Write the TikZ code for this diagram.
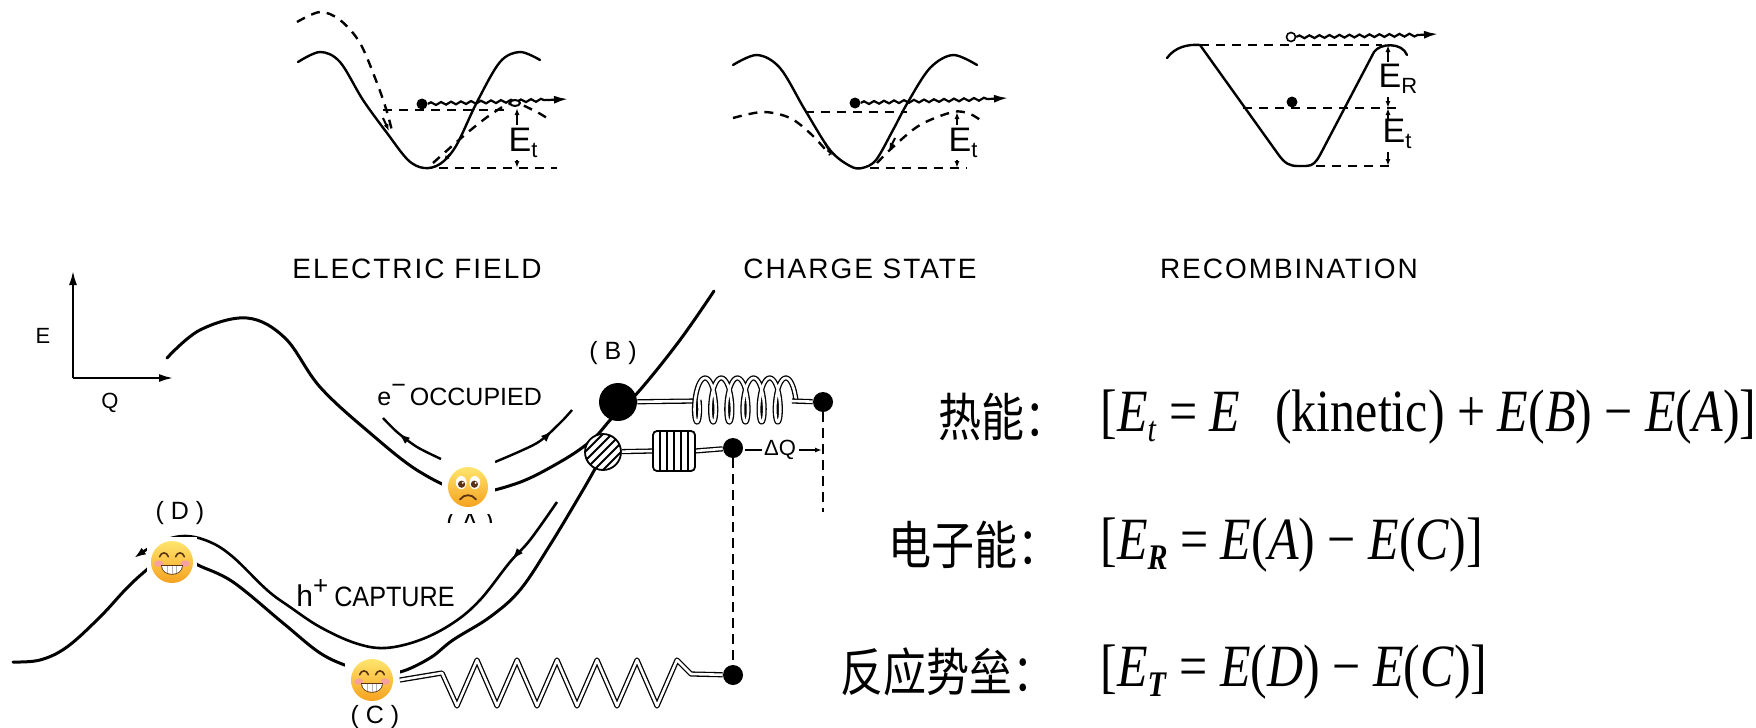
\documentclass[tikz,border=0pt]{standalone}
\usepackage{graphicx}
\usepackage{fontspec}
\setmainfont{Liberation Serif}
\newfontfamily\lab{Liberation Sans}
\newfontfamily\labw{Liberation Sans}[LetterSpace=7]
\newfontfamily\cjk{Noto Sans CJK SC}
\usetikzlibrary{arrows.meta,decorations.pathmorphing,decorations.markings}

\definecolor{facetop}{HTML}{FFE56E}
\definecolor{facebot}{HTML}{F5A21F}
\definecolor{eyebrown}{HTML}{5A3214}
\definecolor{cheek}{HTML}{F7A0A0}

\newcommand\lowsub[2][11]{\raisebox{-0.35ex}{\fontsize{#1}{#1}\selectfont #2}}

% emoji faces, drawn in pt around a named point
\newcommand\sadface[1]{%
\begin{scope}[shift={(#1)}, x=1pt, y=1pt]
 \shade[top color=facetop, bottom color=facebot] (0,0) circle (10);
 \foreach \s in {-1,1}{
  \fill[white] (3.4*\s,2.2) ellipse (2.7 and 3.3);
  \fill[eyebrown] (3.2*\s,1.4) circle (1.8);
  \fill[white] (3.2*\s+0.6,2.1) circle (0.55);
 }
 \draw[eyebrown, line width=0.9pt, line cap=round] (-4,-6.2) .. controls (-2,-3.4) and (2,-3.4) .. (4,-6.2);
\end{scope}}

\newcommand\grinface[1]{%
\begin{scope}[shift={(#1)}, x=1pt, y=1pt]
 \shade[top color=facetop, bottom color=facebot] (0,0) circle (10.5);
 \fill[cheek] (-6.6,-0.8) ellipse (2.3 and 1.6);
 \fill[cheek] (6.6,-0.8) ellipse (2.3 and 1.6);
 \draw[eyebrown, line width=0.8pt, line cap=round] (-6.2,2.6) .. controls (-5.4,5.2) and (-2.6,5.2) .. (-1.8,2.6);
 \draw[eyebrown, line width=0.8pt, line cap=round] (1.8,2.6) .. controls (2.6,5.2) and (5.4,5.2) .. (6.2,2.6);
 \fill[eyebrown] (-5.4,-1.4) -- (5.4,-1.4) .. controls (5.4,-8) and (-5.4,-8) .. (-5.4,-1.4) -- cycle;
 \begin{scope}
  \clip (-5,-1.9) -- (5,-1.9) .. controls (5,-7.3) and (-5,-7.3) .. (-5,-1.9) -- cycle;
  \fill[white] (-5,-1.9) rectangle (5,-7.5);
  \foreach \tx in {-2.4,0,2.4} \draw[gray!60, line width=0.5pt] (\tx,-1.9) -- (\tx,-7.5);
 \end{scope}
\end{scope}}

\tikzset{
 pcurve/.style={line width=1.5pt, line join=round, line cap=round},
 inl/.style={line width=1.2pt, line join=round, line cap=round},
 dsh/.style={line width=1.2pt, dash pattern=on 4.5pt off 3.5pt},
 vdsh/.style={line width=0.7pt, dash pattern=on 5pt off 3pt},
 wavy/.style={line width=1.1pt, decorate, decoration={snake, amplitude=0.7pt, segment length=5pt}},
 arr/.style={line width=1.1pt, -{Latex[length=7pt,width=4pt]}},
 arrs/.style={line width=0.8pt, -{Latex[length=3.5pt,width=2.5pt]}},
 midarrow/.style={postaction={decorate, decoration={markings, mark=at position #1 with {\arrow{Latex[length=6pt,width=4pt]}}}}},
 rod/.style={double=white, double distance=1.3pt, line width=0.65pt, line join=round},
 dotb/.style={circle, fill=black, inner sep=0pt, minimum size=5.5pt},
 lbl/.style={font={\lab\fontsize{12.5}{14}\selectfont}, inner sep=0pt},
 ilbl/.style={font={\labw\fontsize{14}{16}\selectfont}, inner sep=0pt},
 elbl/.style={font={\lab\fontsize{17}{18}\selectfont}, inner sep=0pt},
 facebox/.style={fill=white, inner sep=0pt},
 cn/.style={font={\cjk\fontsize{21.5}{24}\selectfont}, inner sep=0pt, anchor=west},
 fm/.style={font={\fontsize{25}{30}\selectfont}, inner sep=0pt, anchor=west},
}

\begin{document}
\begin{tikzpicture}[x=0.5pt, y=-0.5pt]
\useasboundingbox (0,0) rectangle (1756,728);
\fill[white] (0,0) rectangle (1756,728);

%% ---------- inset: electric field ----------
\draw[dsh] (423,168) -- (557,168);
\draw[dsh] (383,110) -- (510,110);
\draw[inl] plot[smooth, tension=0.55] coordinates {(298,62) (320,52) (340,62) (363,100) (387,133) (408,160) (424,168) (440,164) (456,146) (477,102) (500,62) (520,52) (540,60)};
\draw[dsh] plot[smooth, tension=0.55] coordinates {(297,22) (320,12) (340,20) (360,43) (377,83) (387,112) (393,135)};
\draw[dsh] plot[smooth, tension=0.55] coordinates {(433,163) (467,133) (493,113) (513,103) (533,110) (547,118)};
\draw[arrs, line width=1pt] (383,118) -- (389,131);
\draw[arrs, line width=1pt] (450,154) -- (443,162);
\node[dotb] (p1) at (422,104) {};
\coordinate (w1) at (548,100);
\coordinate (w1e) at (568,99);
\draw[wavy] (p1) -- (w1);
\draw[arr] (w1) -- (w1e);
\draw[line width=1pt, fill=white] (515,103) ellipse (5 and 3);
\node[elbl] (et1) at (523,143) {E\lowsub{t}};
\coordinate (et1a) at (517,108);
\coordinate (et1b) at (517,168);
\draw[arrs] (517,125) -- (et1a);
\draw[arrs] (517,160) -- (et1b);
\node[ilbl] (t1) at (417,269) {ELECTRIC FIELD};

%% ---------- inset: charge state ----------
\draw[dsh] (870,168) -- (967,168);
\draw[dsh] (805,112) -- (907,112);
\draw[inl] plot[smooth, tension=0.55] coordinates {(733,65) (757,55) (780,68) (805,110) (830,150) (850,166) (862,168) (876,160) (893,130) (908,102) (930,68) (953,55) (977,65)};
\draw[dsh] plot[smooth, tension=0.55] coordinates {(733,118) (763,112) (790,118) (812,135) (830,155)};
\draw[dsh] plot[smooth, tension=0.55] coordinates {(877,163) (893,147) (920,125) (953,112) (970,114) (983,122)};
\draw[arrs, line width=1pt] (825,143) -- (832,156);
\draw[arrs, line width=1pt] (895,138) -- (889,150);
\node[dotb] (p2) at (855,103) {};
\coordinate (w2) at (988,99);
\coordinate (w2e) at (1008,98);
\draw[wavy] (p2) -- (w2);
\draw[arr] (w2) -- (w2e);
\node[elbl] (et2) at (963,143) {E\lowsub{t}};
\coordinate (et2a) at (957,112);
\coordinate (et2b) at (957,168);
\draw[arrs] (957,125) -- (et2a);
\draw[arrs] (957,160) -- (et2b);
\node[ilbl] (t2) at (860,269) {CHARGE STATE};

%% ---------- inset: recombination ----------
\draw[dsh] (1200,45) -- (1382,45);
\draw[dsh] (1243,108) -- (1403,108);
\draw[dsh] (1300,166) -- (1390,166);
\draw[inl] (1167,58) .. controls (1175,47) and (1188,44) .. (1200,45) -- (1278,154) .. controls (1285,164) and (1290,166) .. (1298,166) -- (1306,166) .. controls (1313,166) and (1316,162) .. (1320,155) -- (1374,52) .. controls (1380,43) and (1402,42) .. (1407,55);
\node[circle, draw, fill=white, line width=0.8pt, inner sep=0pt, minimum size=4.5pt] (p3) at (1291,37) {};
\coordinate (w3) at (1418,35);
\coordinate (w3e) at (1438,34);
\draw[wavy] (p3) -- (w3);
\draw[arr] (w3) -- (w3e);
\node[dotb] (p4) at (1292,102) {};
\node[elbl] (er) at (1398,79) {E\lowsub{R}};
\node[elbl] (et3) at (1397,134) {E\lowsub{t}};
\coordinate (er1) at (1388,45);
\coordinate (er2) at (1388,108);
\coordinate (er3) at (1388,166);
\draw[arrs] (1388,62) -- (er1);
\draw[arrs] (1388,97) -- (er2);
\draw[arrs] (1388,119) -- (er2);
\draw[arrs] (1388,152) -- (er3);
\node[ilbl] (t3) at (1289,269) {RECOMBINATION};

%% ---------- axes ----------
\coordinate (O) at (73,378);
\coordinate (Etop) at (73,271);
\coordinate (Qend) at (173,378);
\draw[arr, line width=1pt] (O) -- (Etop);
\draw[arr, line width=1pt] (O) -- (Qend);
\node[lbl, font={\lab\fontsize{11}{12}\selectfont}] (El) at (43,336) {E};
\node[lbl, font={\lab\fontsize{11}{12}\selectfont}] (Ql) at (110,403) {Q};

%% ---------- configuration-coordinate curves ----------
% upper (electron occupied) curve
\draw[pcurve] plot[smooth, tension=0.6] coordinates {(167,358) (200,330) (247,318) (285,338) (320,387) (370,433) (420,472) (468,492) (515,484) (560,462) (592,440) (612,418) (640,390) (680,340) (714,291)};
% lower (after hole capture) curve
\draw[pcurve] plot[smooth, tension=0.6] coordinates {(13,662) (40,660) (67,647) (100,617) (125,590) (143,573) (165,556) (185,556) (198,565) (233,582) (283,623) (320,653) (350,667) (373,673) (400,672) (430,658) (453,640) (490,617) (520,590) (550,545) (583,490) (596,467)};
% trajectory after capture
\draw[line width=1.3pt, line join=round, -{Latex[length=6pt,width=4pt]}, midarrow=0.14] plot[smooth, tension=0.6] coordinates {(557,502) (530,540) (510,562) (480,600) (453,623) (420,640) (385,648) (355,643) (320,627) (290,607) (267,590) (233,557) (210,542) (185,536) (160,542) (134,558)};
% motion arrows in the upper well
\draw[line width=1.2pt, midarrow=0.7] plot[smooth] coordinates {(441,459) (417,447) (397,432) (383,418)};
\draw[line width=1.2pt, midarrow=0.7] plot[smooth] coordinates {(495,462) (537,443) (560,423) (572,410)};

%% ---------- labels on curves ----------
\node[lbl, anchor=base west] (occ) at (377,405) {e\raisebox{0.45em}{−}\hspace{2pt}OCCUPIED};
\node[lbl, anchor=base west] (cap) at (296,606) {\fontsize{15}{16}\selectfont h\raisebox{0.4em}{\fontsize{13}{13}\selectfont +}\hspace{3pt}\scalebox{0.9}[1]{\fontsize{14}{16}\selectfont CAPTURE}};
\node[lbl] (Bl) at (613,353) {( B )};
\node[lbl] (Dl) at (180,513) {( D )};
\node[lbl] (Cl) at (375,717) {( C )};
\begin{scope}
 \clip (440,513) rectangle (500,522);
 \node[lbl] (Al) at (470,524) {( A )};
\end{scope}

%% ---------- emoji markers ----------
\node[facebox, minimum width=26.5pt, minimum height=26.5pt] (A) at (468,487) {};
\node[facebox, minimum width=25pt, minimum height=25pt] (D) at (172,562) {};
\node[facebox, minimum width=27.5pt, minimum height=23pt] (C) at (372,680) {};
\sadface{A}
\grinface{D}
\grinface{C}

%% ---------- lattice balls and springs ----------
\node[circle, draw, fill=white, line width=0.9pt, inner sep=0pt, minimum size=18pt] (ballH) at (603,452) {};
\begin{scope}
 \clip (603,452) circle (18);
 \foreach \k in {-3,...,3} \draw[line width=1pt] ({603+\k*9-30},{452+30}) -- ({603+\k*9+30},{452-30});
\end{scope}
\node[circle, fill=black, inner sep=0pt, minimum size=19pt] (ballB) at (618,402) {};

% upper spring
\coordinate (cu0) at (697,401);
\coordinate (cu1) at (792,401);
\node[circle, fill=black, inner sep=0pt, minimum size=10pt] (endU) at (823,402) {};
\draw[rod] (ballB) -- (cu0);
\draw[rod] plot[domain=1.5708:39.27, samples=320, smooth] ({693 + 2.57*(\x-1.5708) + 6*sin(\x r)}, {400 - 22*cos(\x r)});
\draw[rod] (cu1) -- (endU);

% lower, stiff spring
\node[circle, fill=black, inner sep=0pt, minimum size=10pt] (endL) at (733,448) {};
\coordinate (cl0) at (653,451);
\coordinate (cl1) at (695,451);
\draw[rod] (ballH) -- (cl0);
\draw[rod] (cl1) -- (endL);
\draw[line width=0.9pt, rounded corners=2pt] (653,431) rectangle (695,471);
\foreach \xx in {660,667,674,681,688} \draw[line width=0.8pt] (\xx,432) -- (\xx,470);

% bottom spring from C
\node[circle, fill=black, inner sep=0pt, minimum size=10pt] (endC) at (733,675) {};
\draw[rod] (C.east) -- (442,673) -- (457,706)
  \foreach \k in {0,...,4} { -- ({477+40*\k},660) -- ({497+40*\k},706) }
  -- (677,660) -- (691,674) -- (endC);

% displacement markers
\coordinate (vR) at (823,512);
\draw[vdsh] (endU) -- (vR);
\draw[vdsh] (endL) -- (endC);
\node[lbl, font={\lab\fontsize{11}{12}\selectfont}] (dq) at (780,450) {ΔQ};
\coordinate (dqL) at (745,450);
\coordinate (dqR) at (822,450);
\draw[line width=0.8pt] (dq.west) ++(-2,0) -- (dqL);
\draw[arrs] (dq.east) ++(3,0) -- (dqR);

%% ---------- energy definitions ----------
\node[cn] (l1) at (938,417) {\scalebox{1}[1.2]{热能：}};
\node[fm] (f1) at (1100,417) {\scalebox{1}[1.2]{[\textit{E}\lowsub[15]{\textit{t}} = \textit{E}\hspace{0.7em}(kinetic) + \textit{E}(\textit{B}) − \textit{E}(\textit{A})]}};
\node[cn] (l2) at (888,545) {\scalebox{1}[1.2]{电子能：}};
\node[fm] (f2) at (1100,545) {\scalebox{1}[1.2]{[\textit{E}\lowsub[15]{\textbf{\textit{R}}} = \textit{E}(\textit{A}) − \textit{E}(\textit{C})]}};
\node[cn] (l3) at (840,672) {\scalebox{1}[1.2]{反应势垒：}};
\node[fm] (f3) at (1100,672) {\scalebox{1}[1.2]{[\textit{E}\lowsub[15]{\textbf{\textit{T}}} = \textit{E}(\textit{D}) − \textit{E}(\textit{C})]}};
\end{tikzpicture}
\end{document}
